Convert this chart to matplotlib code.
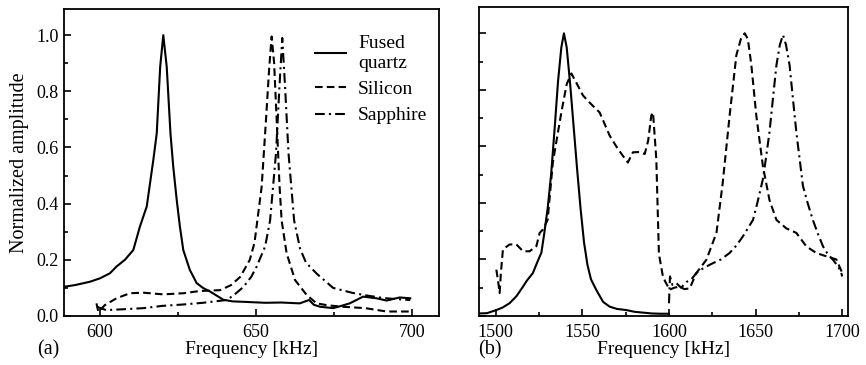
import matplotlib
matplotlib.use("Agg")
import matplotlib.pyplot as plt
from matplotlib.ticker import MultipleLocator
from matplotlib.lines import Line2D

plt.rcParams['font.family'] = ['Liberation Serif', 'DejaVu Serif']
plt.rcParams['lines.scale_dashes'] = False

# ---------------- Panel (a) data ----------------
a_quartz_f = [588.5, 592, 596.8, 600, 603.2, 605.3, 608, 610.7, 612.8, 615, 617.1, 618.2, 619.3, 620.3,
              621.4, 622.6, 623.5, 624.6, 625.6, 626.7, 628.8, 631, 633, 635.3, 639.5, 642.5, 647, 653,
              658, 664, 667, 668.5, 670.5, 674.7, 677, 680, 684.3, 688.6, 691.8, 696, 699.4]
a_quartz_y = [0.104, 0.11, 0.122, 0.134, 0.152, 0.176, 0.20, 0.235, 0.318, 0.39, 0.555, 0.65, 0.887, 1.0,
              0.887, 0.65, 0.53, 0.413, 0.32, 0.235, 0.164, 0.117, 0.10, 0.087, 0.058, 0.052, 0.05, 0.047,
              0.048, 0.045, 0.057, 0.04, 0.033, 0.028, 0.035, 0.045, 0.069, 0.063, 0.055, 0.066, 0.063]

a_silicon_f = [598.9, 599.5, 601.6, 605.3, 609.6, 613.9, 620.3, 626.7, 632, 638.5, 642, 645, 648, 649.5,
               651.8, 653.2, 654.2, 655.0, 655.8, 656.6, 657.5, 658.2, 659.8, 662.5, 666.2, 669.4, 673,
               677.6, 685, 691.8, 699.4]
a_silicon_y = [0.045, 0.015, 0.039, 0.063, 0.081, 0.083, 0.077, 0.081, 0.089, 0.092, 0.11, 0.14, 0.20, 0.26,
               0.46, 0.70, 0.88, 0.995, 0.90, 0.70, 0.47, 0.34, 0.223, 0.128, 0.075, 0.045, 0.038,
               0.033, 0.028, 0.016, 0.016]

a_sapphire_f = [599, 602, 607.5, 614, 620, 626.7, 633, 640.6, 643, 646, 648.5, 650.2, 652.9, 654.5, 656.4,
                657.5, 658.4, 659.3, 660.4, 662.2, 664.1, 666, 669.5, 674.7, 681, 686, 690.8, 695, 699.4]
a_sapphire_y = [0.033, 0.021, 0.024, 0.028, 0.036, 0.041, 0.047, 0.057, 0.075, 0.104, 0.14, 0.176, 0.247,
                0.34, 0.58, 0.816, 0.99, 0.816, 0.58, 0.34, 0.24, 0.19, 0.15, 0.10, 0.082, 0.072, 0.064,
                0.06, 0.057]

# ---------------- Panel (b) data ----------------
b_quartz_f = [1490.4, 1495, 1500.4, 1504, 1508, 1512, 1515.8, 1518, 1521.5, 1524, 1526.4, 1528, 1530, 1532,
              1534, 1536, 1537.9, 1539.4, 1541, 1543, 1545, 1547, 1549, 1551, 1553, 1555, 1558, 1562,
              1565.8, 1570, 1575.4, 1580, 1585, 1590, 1595, 1600]
b_quartz_y = [0.009, 0.01, 0.021, 0.03, 0.045, 0.07, 0.104, 0.125, 0.152, 0.19, 0.224, 0.29, 0.38, 0.50,
              0.66, 0.83, 0.95, 1.0, 0.95, 0.82, 0.67, 0.52, 0.38, 0.26, 0.18, 0.13, 0.093, 0.05,
              0.033, 0.025, 0.021, 0.015, 0.012, 0.009, 0.008, 0.008]

b_silicon_f = [1500.4, 1501.5, 1502.3, 1503, 1504.2, 1508, 1512, 1515.8, 1519.6, 1523.5, 1525.4, 1527.3,
               1530, 1533, 1537.9, 1541, 1543.7, 1547, 1550.4, 1555, 1560, 1565.8, 1569.6, 1573, 1576.3,
               1579.2, 1583, 1586, 1588, 1589.8, 1590.8, 1592.7, 1594.2, 1596.5, 1598, 1600.4, 1603,
               1606, 1609, 1612, 1615.8, 1621.6, 1627.4, 1631, 1635, 1638.9, 1641.5, 1643.7, 1645.5,
               1647.5, 1650.4, 1654.2, 1658, 1662, 1667.7, 1673.5, 1679.3, 1685, 1690.8, 1696.6, 1700]
b_silicon_y = [0.164, 0.12, 0.081, 0.15, 0.235, 0.253, 0.253, 0.229, 0.229, 0.247, 0.294, 0.306,
               0.34, 0.543, 0.72, 0.82, 0.858, 0.82, 0.78, 0.75, 0.72, 0.638, 0.60, 0.57, 0.543,
               0.579, 0.58, 0.573, 0.62, 0.709, 0.72, 0.555, 0.22, 0.14, 0.12, 0.093, 0.10,
               0.104, 0.095, 0.098, 0.152, 0.199, 0.294, 0.47, 0.709, 0.923, 0.98, 1.0, 0.98,
               0.89, 0.709, 0.53, 0.41, 0.34, 0.31, 0.294, 0.246, 0.223, 0.211, 0.2, 0.152]

b_sapphire_f = [1600, 1600.6, 1602, 1604.3, 1607, 1610, 1613, 1615.8, 1620, 1625.4, 1630, 1635, 1639,
                1642.7, 1645.5, 1648.5, 1651, 1654.2, 1656, 1658, 1660, 1662, 1664, 1665.8, 1667.5,
                1669.6, 1671.5, 1673.5, 1677.3, 1680, 1683, 1686, 1688.9, 1691.5, 1694.6, 1697, 1699, 1700]
b_sapphire_y = [0.045, 0.14, 0.11, 0.116, 0.10, 0.12, 0.13, 0.152, 0.17, 0.187, 0.2, 0.223, 0.25,
                0.282, 0.31, 0.34, 0.40, 0.484, 0.56, 0.65, 0.77, 0.887, 0.96, 0.994, 0.96,
                0.887, 0.77, 0.65, 0.46, 0.40, 0.34, 0.29, 0.246, 0.22, 0.199, 0.18, 0.16, 0.14]

labels = ["Fused\nquartz", "Silicon", "Sapphire"]

W, H = 866, 365
fig = plt.figure(figsize=(W / 100, H / 100), dpi=100)

def px_axes(l, r, t, b):
    return fig.add_axes([l / W, 1 - b / H, (r - l) / W, (b - t) / H])

axa = px_axes(64, 439, 9, 316)
axb = px_axes(479, 848, 7, 316)

lw = 1.5
solid_kw = dict(color='black', lw=lw, ls='-')
dash_kw = dict(color='black', lw=lw, dashes=(5.5, 3))
dashdot_kw = dict(color='black', lw=lw, dashes=(7, 3, 1.5, 3))

axa.plot(a_quartz_f, a_quartz_y, **solid_kw)
axa.plot(a_silicon_f, a_silicon_y, **dash_kw)
axa.plot(a_sapphire_f, a_sapphire_y, **dashdot_kw)

axb.plot(b_quartz_f, b_quartz_y, **solid_kw)
axb.plot(b_silicon_f, b_silicon_y, **dash_kw)
axb.plot(b_sapphire_f, b_sapphire_y, **dashdot_kw)

axa.set_xlim(588.5, 708.6)
axb.set_xlim(1490.4, 1703.3)
for ax in (axa, axb):
    ax.set_ylim(0, 1.093)
    ax.yaxis.set_major_locator(MultipleLocator(0.2))
    ax.yaxis.set_minor_locator(MultipleLocator(0.1))
    ax.tick_params(which='both', direction='in', top=False, right=False, labelsize=13, width=1.2)
    ax.tick_params(which='major', length=5, pad=6)
    ax.tick_params(which='minor', length=3)
    ax.tick_params(axis='y', which='major', pad=4)
    for s in ax.spines.values():
        s.set_linewidth(1.3)
    ax.set_xlabel("Frequency [kHz]", fontsize=14, labelpad=0)

axa.xaxis.set_major_locator(MultipleLocator(50))
axa.xaxis.set_minor_locator(MultipleLocator(25))
axb.xaxis.set_major_locator(MultipleLocator(50))
axb.xaxis.set_minor_locator(MultipleLocator(25))
axa.set_yticks([0, 0.2, 0.4, 0.6, 0.8, 1.0])
axa.set_yticklabels(["0.0", "0.2", "0.4", "0.6", "0.8", "1.0"])
axb.tick_params(axis='y', labelleft=False)
axa.set_ylabel("Normalized amplitude", fontsize=14.5, labelpad=5)

handles = [Line2D([], [], **solid_kw), Line2D([], [], **dash_kw), Line2D([], [], **dashdot_kw)]
axa.legend(handles, labels, loc='upper left', bbox_to_anchor=(0.67, 0.915), frameon=False,
           fontsize=14, handlelength=1.6, handletextpad=0.6, labelspacing=0.45, borderpad=0,
           borderaxespad=0)

fig.text(48 / W, 1 - 350 / H, "(a)", fontsize=14.5, ha='center', va='center')
fig.text(490 / W, 1 - 350 / H, "(b)", fontsize=14.5, ha='center', va='center')

fig.savefig("out.png", dpi=100)
